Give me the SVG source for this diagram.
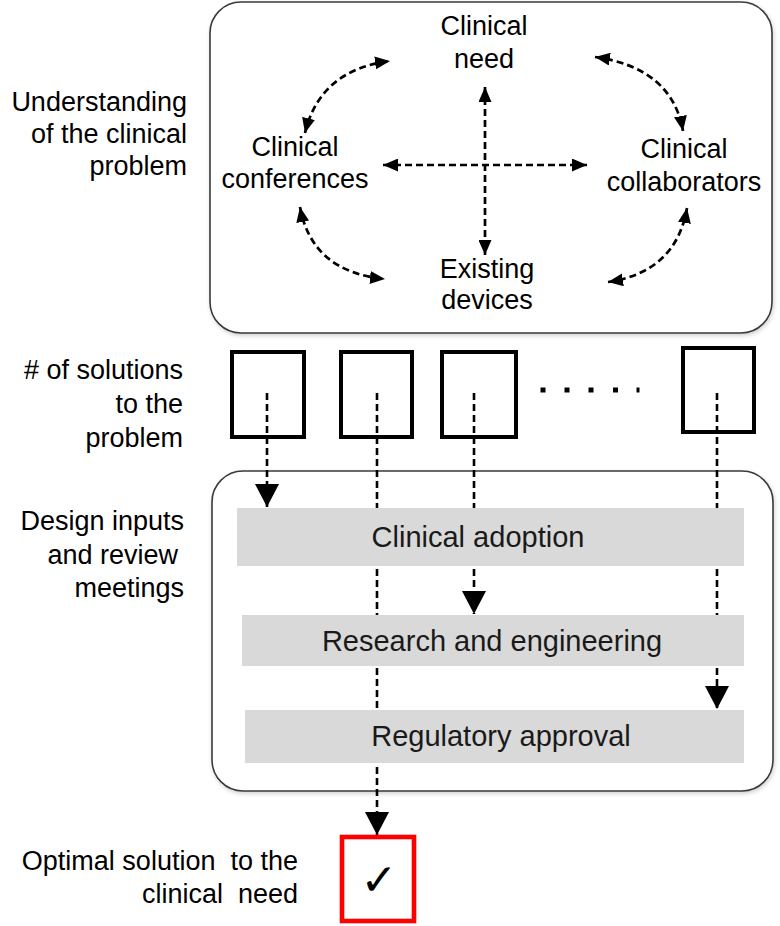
<svg xmlns="http://www.w3.org/2000/svg" width="780" height="926" viewBox="0 0 780 926">
<style>
text{font-family:"Liberation Sans",Arial,sans-serif;fill:#000}
.lbl{font-size:27px;text-anchor:end}
.nd{font-size:27px;text-anchor:middle}
.bar{fill:#d9d9d9}
.bt{font-size:29px;text-anchor:middle;fill:#1a1a1a}
.frame{fill:#fff;stroke:#3a3a3a;stroke-width:1.6}
.sol{fill:#fff;stroke:#000;stroke-width:4}
.dash{fill:none;stroke:#000;stroke-width:2.7;stroke-dasharray:7 4}
.dash2{fill:none;stroke:#000;stroke-width:2.6;stroke-dasharray:7 4}
</style>
<defs>
<filter id="sh" x="-5%" y="-5%" width="110%" height="110%">
<feDropShadow dx="1" dy="2" stdDeviation="2" flood-color="#000" flood-opacity="0.18"/>
</filter>
<marker id="ah" viewBox="0 0 15 13" refX="15" refY="6.5" markerWidth="15" markerHeight="13" markerUnits="userSpaceOnUse" orient="auto-start-reverse">
<path d="M0,0 L15,6.5 L0,13 Z" fill="#000"/>
</marker>
<marker id="big" viewBox="0 0 23 24" refX="23" refY="12" markerWidth="23" markerHeight="24" markerUnits="userSpaceOnUse" orient="auto">
<path d="M0,0 L23,12 L0,24 Z" fill="#000"/>
</marker>
</defs>
<rect width="780" height="926" fill="#fff"/>

<g id="labels">
<text class="lbl" x="187" y="111">Understanding</text>
<text class="lbl" x="187" y="143">of the clinical</text>
<text class="lbl" x="187" y="175">problem</text>
<text class="lbl" x="183" y="379"># of solutions</text>
<text class="lbl" x="183" y="413">to the</text>
<text class="lbl" x="183" y="447">problem</text>
<text class="lbl" x="184" y="530">Design  inputs</text>
<text class="lbl" x="178" y="564">and  review</text>
<text class="lbl" x="184" y="597">meetings</text>
<text class="lbl" x="298" y="870" xml:space="preserve">Optimal solution  to the</text>
<text class="lbl" x="298" y="903" xml:space="preserve">clinical  need</text>
</g>

<g id="understanding-frame">
<rect class="frame" x="210" y="2" width="562" height="331" rx="31" filter="url(#sh)"/>
</g>

<g id="clinical-need">
<text class="nd" x="484" y="35">Clinical</text>
<text class="nd" x="484" y="68">need</text>
</g>
<g id="clinical-conferences">
<text class="nd" x="295" y="156">Clinical</text>
<text class="nd" x="295" y="188">conferences</text>
</g>
<g id="clinical-collaborators">
<text class="nd" x="684" y="158">Clinical</text>
<text class="nd" x="684" y="191">collaborators</text>
</g>
<g id="existing-devices">
<text class="nd" x="487" y="278">Existing</text>
<text class="nd" x="487" y="309">devices</text>
</g>

<g id="solution-1"><rect class="sol" x="232" y="352" width="72" height="85"/></g>
<g id="solution-2"><rect class="sol" x="341" y="352" width="71" height="85"/></g>
<g id="solution-3"><rect class="sol" x="442" y="352" width="74" height="85"/></g>
<g id="ellipsis">
<rect x="540.5" y="387.5" width="5" height="5"/>
<rect x="564.5" y="387.5" width="5" height="5"/>
<rect x="588.5" y="387.5" width="5" height="5"/>
<rect x="613" y="387.5" width="5" height="5"/>
<rect x="636.5" y="387.5" width="3" height="5"/>
</g>
<g id="solution-n"><rect class="sol" x="683" y="348" width="71" height="84"/></g>

<g id="design-frame">
<rect class="frame" x="212" y="471" width="561" height="320" rx="31" filter="url(#sh)"/>
</g>

<g id="connectors">
<path class="dash" d="M305,133 Q320,70 390,61" marker-start="url(#ah)" marker-end="url(#ah)"/>
<path class="dash" d="M595,57 Q672,68 683,131" marker-start="url(#ah)" marker-end="url(#ah)"/>
<path class="dash" d="M300,207 Q312,272 385,279" marker-start="url(#ah)" marker-end="url(#ah)"/>
<path class="dash" d="M687,208 Q676,272 608,282" marker-start="url(#ah)" marker-end="url(#ah)"/>
<path class="dash" d="M485,87 L485,255" marker-start="url(#ah)" marker-end="url(#ah)"/>
<path class="dash" d="M383,165 L587,165" marker-start="url(#ah)" marker-end="url(#ah)"/>
<path class="dash2" d="M267,393 L267,507" marker-end="url(#big)"/>
<path class="dash2" d="M377,393 L377,835" marker-end="url(#big)"/>
<path class="dash2" d="M474,393 L474,614" marker-end="url(#big)"/>
<path class="dash2" d="M717,393 L717,709" marker-end="url(#big)"/>
</g>

<g id="clinical-adoption">
<rect class="bar" x="237" y="508" width="507" height="58"/>
<text class="bt" x="478" y="547">Clinical adoption</text>
</g>
<g id="research-engineering">
<rect class="bar" x="242" y="615" width="502" height="51"/>
<text class="bt" x="492" y="651">Research and engineering</text>
</g>
<g id="regulatory-approval">
<rect class="bar" x="245" y="710" width="499" height="53"/>
<text class="bt" x="501" y="746">Regulatory approval</text>
</g>

<g id="optimal-solution">
<rect x="342" y="837" width="72" height="84" fill="#fff" stroke="#ff0000" stroke-width="4.6"/>
<text x="379" y="895" style="font-family:'DejaVu Sans',sans-serif;font-size:44px;text-anchor:middle;fill:#000">✓</text>
</g>
</svg>
